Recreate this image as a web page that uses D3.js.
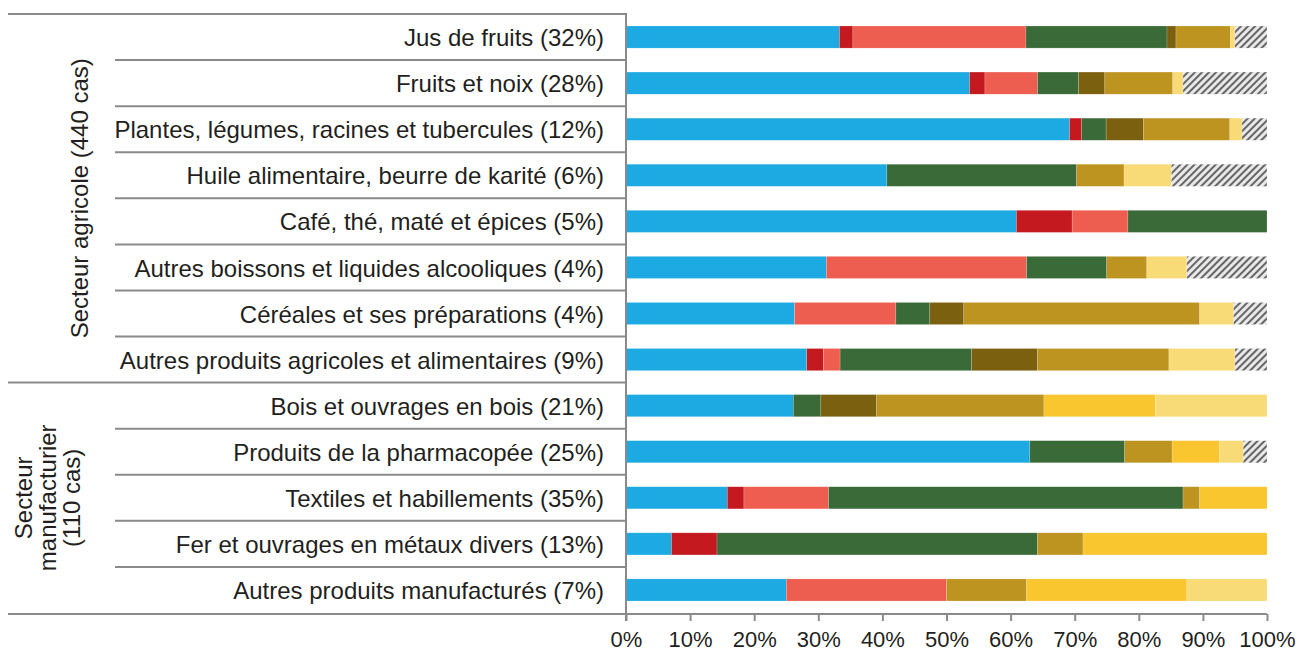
<!DOCTYPE html>
<html>
<head>
<meta charset="utf-8">
<script src="https://cdn.jsdelivr.net/npm/d3@7"></script>
<style>
  body { margin: 0; background: #fff; }
  text { font-family: "Liberation Sans", Arial, sans-serif; fill: #231f20; }
</style>
</head>
<body>
<svg id="chart" width="1300" height="652"></svg>
<script>
// categories (de haut en bas)
var categories = [
  "Jus de fruits (32%)",
  "Fruits et noix (28%)",
  "Plantes, légumes, racines et tubercules (12%)",
  "Huile alimentaire, beurre de karité (6%)",
  "Café, thé, maté et épices (5%)",
  "Autres boissons et liquides alcooliques (4%)",
  "Céréales et ses préparations (4%)",
  "Autres produits agricoles et alimentaires (9%)",
  "Bois et ouvrages en bois (21%)",
  "Produits de la pharmacopée (25%)",
  "Textiles et habillements (35%)",
  "Fer et ouvrages en métaux divers (13%)",
  "Autres produits manufacturés (7%)"
];

// séries (en %)
var bleu       = [33.3, 53.6, 69.2, 40.7, 60.9, 31.25, 26.3, 28.2, 26.1, 63.0, 15.8, 7.1, 25];
var rouge      = [2.1, 2.4, 1.9, 0, 8.7, 0, 0, 2.6, 0, 0, 2.6, 7.1, 0];
var saumon     = [27.0, 8.2, 0, 0, 8.7, 31.25, 15.8, 2.6, 0, 0, 13.2, 0, 25];
var vert       = [22.0, 6.4, 3.8, 29.6, 21.7, 12.5, 5.3, 20.5, 4.3, 14.8, 55.3, 50.0, 0];
var brun       = [1.4, 4.1, 5.8, 0, 0, 0, 5.3, 10.3, 8.7, 0, 0, 0, 0];
var or         = [8.5, 10.6, 13.5, 7.4, 0, 6.25, 36.8, 20.5, 26.1, 7.4, 2.6, 7.1, 12.5];
var jaune      = [0, 0, 0, 0, 0, 0, 0, 0, 17.4, 7.4, 10.5, 28.7, 25];
var jauneClair = [0.7, 1.6, 1.9, 7.4, 0, 6.25, 5.3, 10.3, 17.4, 3.7, 0, 0, 12.5];
var hachure    = [5.0, 13.1, 3.9, 14.9, 0, 12.5, 5.2, 5.0, 0, 3.7, 0, 0, 0];

var ticks = [0, 10, 20, 30, 40, 50, 60, 70, 80, 90, 100];

var keys = ["bleu", "rouge", "saumon", "vert", "brun", "or", "jaune", "jauneClair", "hachure"];
var series = {bleu: bleu, rouge: rouge, saumon: saumon, vert: vert, brun: brun, or: or,
              jaune: jaune, jauneClair: jauneClair, hachure: hachure};
var colors = {bleu: "#1daae2", rouge: "#c4191f", saumon: "#ee5e50", vert: "#3b6a39",
              brun: "#7b6010", or: "#be9421", jaune: "#f9c62f", jauneClair: "#f8db76",
              hachure: "url(#hatch)"};

var table = categories.map(function(c, i) {
  var row = {cat: c};
  keys.forEach(function(k) { row[k] = series[k][i]; });
  return row;
});

var svg = d3.select("#chart");
var plotL = 626, plotR = 1267, plotT = 14, plotB = 613;
var lineCol = "#8a8a8a";
var font = "Liberation Sans, Arial, sans-serif";

// hachures
var pat = svg.append("defs").append("pattern")
  .attr("id", "hatch")
  .attr("patternUnits", "userSpaceOnUse")
  .attr("width", 5).attr("height", 5)
  .attr("patternTransform", "rotate(45)");
pat.append("rect").attr("width", 5).attr("height", 5).attr("fill", "#e8e8e8");
pat.append("rect").attr("width", 2).attr("height", 5).attr("fill", "#666");

var x = d3.scaleLinear().domain([0, 100]).range([plotL, plotR]);
var y = d3.scaleBand().domain(categories).range([plotT, plotB])
  .paddingInner(0.52).paddingOuter(0.26);

var stack = d3.stack().keys(keys)(table);

svg.append("g").selectAll("g")
  .data(stack)
  .join("g")
  .attr("fill", function(d) { return colors[d.key]; })
  .selectAll("rect")
  .data(function(d) { return d; })
  .join("rect")
  .attr("x", function(d) { return x(d[0]); })
  .attr("y", function(d) { return y(d.data.cat); })
  .attr("width", function(d) { return x(d[1]) - x(d[0]); })
  .attr("height", y.bandwidth())
  .attr("stroke", "#fff").attr("stroke-opacity", 0.35).attr("stroke-width", 0.5);

// lignes de séparation
var step = y.step();
var grid = svg.append("g").attr("stroke", lineCol).attr("stroke-width", 2);
categories.forEach(function(c, i) {
  if (i === 0) return;
  var yy = y(c) - y.paddingInner() * step / 2;
  var x0 = (i === 8) ? 8 : 115;
  grid.append("line").attr("x1", x0).attr("x2", plotL).attr("y1", yy).attr("y2", yy);
});
grid.append("line").attr("x1", 8).attr("x2", plotL).attr("y1", plotT).attr("y2", plotT);
grid.append("line").attr("x1", 8).attr("x2", plotR).attr("y1", plotB + 1).attr("y2", plotB + 1);
grid.append("line").attr("x1", plotL).attr("x2", plotL).attr("y1", plotT - 1).attr("y2", plotB + 8);

// étiquettes des catégories
var yAxis = svg.append("g")
  .attr("transform", "translate(" + plotL + ",0)")
  .call(d3.axisLeft(y).tickSize(0).tickPadding(22));
yAxis.select(".domain").remove();
yAxis.selectAll("text").attr("font-size", 24).attr("dy", "0.38em")
  .attr("fill", "#231f20").attr("font-family", font);

// axe des x
var xAxis = svg.append("g")
  .attr("transform", "translate(0," + (plotB + 1) + ")")
  .call(d3.axisBottom(x).tickValues(ticks).tickSize(7).tickPadding(10)
    .tickFormat(function(d) { return d + "%"; }));
xAxis.select(".domain").remove();
xAxis.selectAll("line").attr("stroke", lineCol).attr("stroke-width", 2);
xAxis.selectAll("text").attr("font-size", 22).attr("fill", "#231f20")
  .attr("font-family", font);

// secteurs
var agriY = (y(categories[0]) + y(categories[7]) + y.bandwidth()) / 2;
svg.append("text")
  .attr("transform", "translate(88," + agriY + ") rotate(-90)")
  .attr("text-anchor", "middle").attr("font-size", 24)
  .text("Secteur agricole (440 cas)");

var manuY = (y(categories[8]) + y(categories[12]) + y.bandwidth()) / 2;
var manuLines = ["Secteur", "manufacturier", "(110 cas)"];
svg.append("g").selectAll("text")
  .data(manuLines)
  .join("text")
  .attr("transform", function(d, i) { return "translate(" + (32 + i * 24) + "," + manuY + ") rotate(-90)"; })
  .attr("text-anchor", "middle").attr("font-size", 24)
  .text(function(d) { return d; });
</script>
</body>
</html>
